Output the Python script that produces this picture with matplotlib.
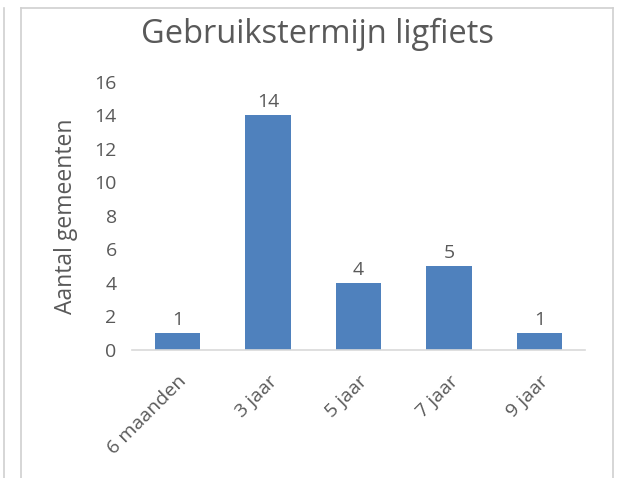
import matplotlib
matplotlib.use('Agg')
import matplotlib.pyplot as plt
from matplotlib.lines import Line2D

# data
categories = ['6 maanden', '3 jaar', '5 jaar', '7 jaar', '9 jaar']
counts = [1, 14, 4, 5, 1]
yticks = [0, 2, 4, 6, 8, 10, 12, 14, 16]

TEXT = '#595959'
BAR = '#4F81BD'

plt.rcParams['font.family'] = ['Open Sans', 'DejaVu Sans']

fig = plt.figure(figsize=(6.18, 4.78), dpi=100)
ax = fig.add_axes([0.2136, 0.2678, 0.7330, 0.5607])

x = range(len(categories))
ax.bar(x, counts, width=0.5, color=BAR, zorder=2)
for xi, v in zip(x, counts):
    ax.text(xi, v + 0.25, str(v), ha='center', va='bottom', fontsize=14, color=TEXT)

ax.set_xlim(-0.5, len(categories) - 0.5)
ax.set_ylim(0, 16)
ax.set_yticks(yticks)
ax.set_xticks(list(x))
ax.set_xticklabels(categories, rotation=45, ha='right', rotation_mode='anchor')
ax.tick_params(axis='both', length=0, labelsize=14, colors=TEXT)
ax.tick_params(axis='y', pad=11)
ax.tick_params(axis='x', pad=16)

for s in ['top', 'right', 'left']:
    ax.spines[s].set_visible(False)
ax.spines['bottom'].set_color('#D9D9D9')
ax.spines['bottom'].set_linewidth(1.2)

ax.set_ylabel('Aantal gemeenten', fontsize=16.5, color=TEXT, labelpad=12)
fig.text(0.514, 0.928, 'Gebruikstermijn ligfiets', ha='center', va='center',
         fontsize=23.5, color=TEXT)

# surrounding frame lines
W, H = 618, 478
grey = '#D0D0D0'
fig.add_artist(Line2D([4 / W, 4 / W], [0, 1 - 8 / H], color=grey, lw=1.2))
fig.add_artist(Line2D([21 / W, 21 / W], [0, 1 - 8 / H], color=grey, lw=1.2))
fig.add_artist(Line2D([21 / W, 612.5 / W], [1 - 8 / H, 1 - 8 / H], color=grey, lw=1.2))
fig.add_artist(Line2D([612.5 / W, 612.5 / W], [0, 1 - 8 / H], color=grey, lw=1.2))

fig.savefig('out.png', dpi=100)
